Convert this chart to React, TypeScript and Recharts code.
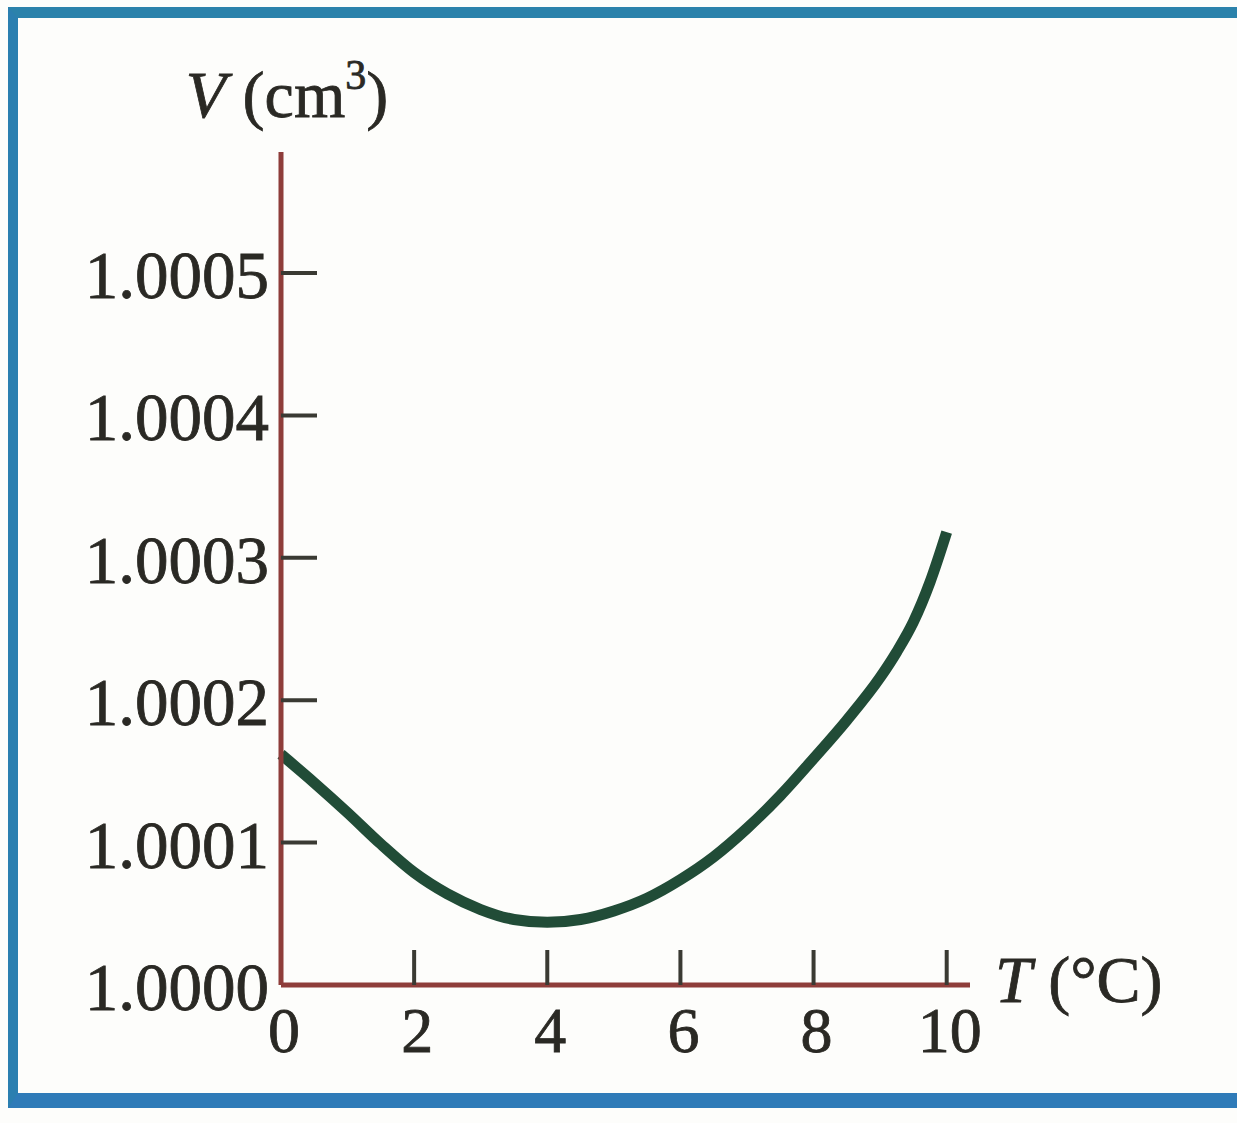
import { LineChart, Line, XAxis, YAxis } from 'recharts';

// temperature (°C) and volume (cm³)
const temps = [0, 0.5, 1, 1.5, 2, 2.5, 3, 3.5, 4, 4.5, 5, 5.5, 6, 6.5, 7, 7.5, 8, 8.5, 9, 9.25, 9.5, 9.75, 10];
const volumes = [
  1.000162, 1.000142, 1.000121, 1.000099, 1.000079, 1.000064, 1.000053, 1.000046, 1.000044,
  1.000046, 1.000052, 1.000061, 1.000074, 1.00009, 1.00011, 1.000133, 1.000159, 1.000186,
  1.000216, 1.000234, 1.000255, 1.000283, 1.000318,
];
const xTicks = [0, 2, 4, 6, 8, 10];
const yTicks = [1.0, 1.0001, 1.0002, 1.0003, 1.0004, 1.0005];

const data = temps.map((t, i) => ({ t, v: volumes[i] }));

const FONT = '"Liberation Serif", "Times New Roman", serif';
const INK = '#2a2924';
const AXIS = '#8e3d3a';
const TICK = '#3a3a33';

function YTick(props: any) {
  const { x, y, payload } = props;
  const isBase = payload.value === yTicks[0];
  return (
    <g>
      {!isBase && <line x1={x} y1={y} x2={x + 36} y2={y} stroke={TICK} strokeWidth={4} />}
      <text x={x - 12} y={y + 25} textAnchor="end" fontFamily={FONT} fontSize={67} fill={INK} stroke={INK} strokeWidth={0.8}>
        {Number(payload.value).toFixed(4)}
      </text>
    </g>
  );
}

function XTick(props: any) {
  const { x, y, payload } = props;
  const isBase = payload.value === xTicks[0];
  return (
    <g>
      {!isBase && <line x1={x} y1={y} x2={x} y2={y - 35} stroke={TICK} strokeWidth={4} />}
      <text x={x + 3} y={y + 67} textAnchor="middle" fontFamily={FONT} fontSize={64} fill={INK} stroke={INK} strokeWidth={0.8}>
        {payload.value}
      </text>
    </g>
  );
}

function YLabel(props: any) {
  const vb = props.viewBox || {};
  const ax = (vb.x || 0) + (vb.width || 0);
  return (
    <text x={ax + 6} y={(vb.y || 0) - 35} textAnchor="middle" fontFamily={FONT} fontSize={66} fill={INK} stroke={INK} strokeWidth={0.8}>
      <tspan fontStyle="italic">V</tspan> (cm
      <tspan fontSize={42} dy={-28}>3</tspan>
      <tspan dy={28}>)</tspan>
    </text>
  );
}

function XLabel(props: any) {
  const vb = props.viewBox || {};
  return (
    <text x={(vb.x || 0) + (vb.width || 0) + 25} y={(vb.y || 0) + 17} fontFamily={FONT} fontSize={66} fill={INK} stroke={INK} strokeWidth={0.8}>
      <tspan fontStyle="italic">T</tspan> (°C)
    </text>
  );
}

export default function App() {
  return (
    <div
      style={{
        position: 'absolute',
        left: 0,
        top: 0,
        width: 1237,
        height: 1123,
        overflow: 'hidden',
        background: '#fdfdfb',
      }}
    >
      <div
        style={{
          position: 'absolute',
          left: 8,
          top: 7,
          width: 1300,
          height: 1101,
          borderTop: '11px solid #2b82ab',
          borderLeft: '10px solid #2b7fb0',
          borderBottom: '15px solid #2f7bb8',
          boxSizing: 'border-box',
        }}
      />
      <div style={{ position: 'absolute', left: 0, top: 0 }}>
        <LineChart
          width={1237}
          height={1123}
          data={data}
          margin={{ top: 152, right: 267, bottom: 137, left: 280 }}
        >
          <XAxis
            dataKey="t"
            type="number"
            domain={[0, 10.35]}
            ticks={xTicks}
            interval={0}
            height={1}
            tickSize={0}
            tickMargin={0}
            tickLine={false}
            axisLine={{ stroke: AXIS, strokeWidth: 5 }}
            tick={<XTick />}
            label={{ content: <XLabel /> }}
          />
          <YAxis
            type="number"
            domain={[1.0, 1.000585]}
            ticks={yTicks}
            interval={0}
            width={1}
            tickSize={0}
            tickMargin={0}
            tickLine={false}
            axisLine={{ stroke: AXIS, strokeWidth: 5 }}
            tick={<YTick />}
            label={{ content: <YLabel /> }}
          />
          <Line
            type="monotone"
            dataKey="v"
            stroke="#214c37"
            strokeWidth={11}
            dot={false}
            activeDot={false}
            isAnimationActive={false}
          />
        </LineChart>
      </div>
    </div>
  );
}
